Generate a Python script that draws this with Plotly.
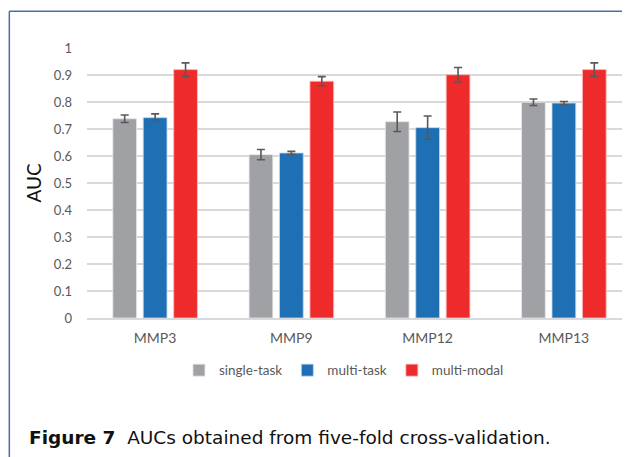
import plotly.graph_objects as go

categories = ["MMP3", "MMP9", "MMP12", "MMP13"]
single_task = [0.738, 0.605, 0.727, 0.799]
single_err = [0.014, 0.019, 0.036, 0.012]
multi_task = [0.742, 0.611, 0.705, 0.796]
multi_err = [0.014, 0.006, 0.043, 0.006]
multi_modal = [0.920, 0.877, 0.901, 0.920]
modal_err = [0.025, 0.017, 0.027, 0.025]
y_ticks = [0, 0.1, 0.2, 0.3, 0.4, 0.5, 0.6, 0.7, 0.8, 0.9, 1]
y_tick_labels = ["0", "0.1", "0.2", "0.3", "0.4", "0.5", "0.6", "0.7", "0.8", "0.9", "1"]

series = [
    ("single-task", single_task, single_err, "#A0A1A5", "rgba(230,230,232,0.8)"),
    ("multi-task", multi_task, multi_err, "#1F6FB5", "rgba(190,215,240,0.8)"),
    ("multi-modal", multi_modal, modal_err, "#EE2A2A", "rgba(250,190,190,0.8)"),
]

fig = go.Figure()
for name, vals, errs, color, edge in series:
    fig.add_trace(go.Bar(
        name=name, x=categories, y=vals,
        marker=dict(color=color, line=dict(color=edge, width=1)),
        error_y=dict(type="data", array=errs, visible=True,
                     color="#595959", thickness=1.6, width=4),
    ))

font_main = "Lato, Open Sans, sans-serif"
fig.update_layout(
    width=630, height=457,
    margin=dict(l=79, r=6, t=40, b=147),
    paper_bgcolor="white", plot_bgcolor="white",
    barmode="group", bargap=0.33, bargroupgap=0.22,
    font=dict(family=font_main, size=13, color="#595959"),
    xaxis=dict(range=[-0.5, 3.5], showgrid=False, showline=True,
               linecolor="#D9D9D9", linewidth=1.5, ticks="",
               ticklabelstandoff=6,
               tickfont=dict(size=14, color="#595959")),
    yaxis=dict(range=[0, 1], tickvals=y_ticks, ticktext=y_tick_labels,
               showgrid=True, gridcolor="#D9D9D9", gridwidth=1.5,
               zeroline=False, showline=False, ticks="",
               ticklabelstandoff=14,
               tickfont=dict(size=13, color="#595959"),
               title=dict(text="AUC", font=dict(size=19, color="#111111"),
                          standoff=7)),
    legend=dict(orientation="h", x=0.4715, xanchor="center",
                y=-0.194, yanchor="middle",
                font=dict(size=13.5, color="#595959"),
                itemwidth=30, tracegroupgap=0),
    showlegend=True,
)

fig.add_shape(type="line", xref="paper", yref="paper",
              x0=-0.1425, x1=1.05, y0=1.136, y1=1.136,
              line=dict(color="#4A6FA0", width=1.5))
fig.add_shape(type="line", xref="paper", yref="paper",
              x0=-0.1425, x1=-0.1425, y0=1.136, y1=-0.52,
              line=dict(color="#4A6FA0", width=1.5))

fig.add_annotation(
    xref="paper", yref="paper", x=-0.11, y=-0.442,
    xanchor="left", yanchor="middle", showarrow=False,
    text="<b>Figure 7</b>  AUCs obtained from five-fold cross-validation.",
    font=dict(family="DejaVu Sans, sans-serif", size=18.5, color="#111111"),
)

fig.write_html("out.html")
